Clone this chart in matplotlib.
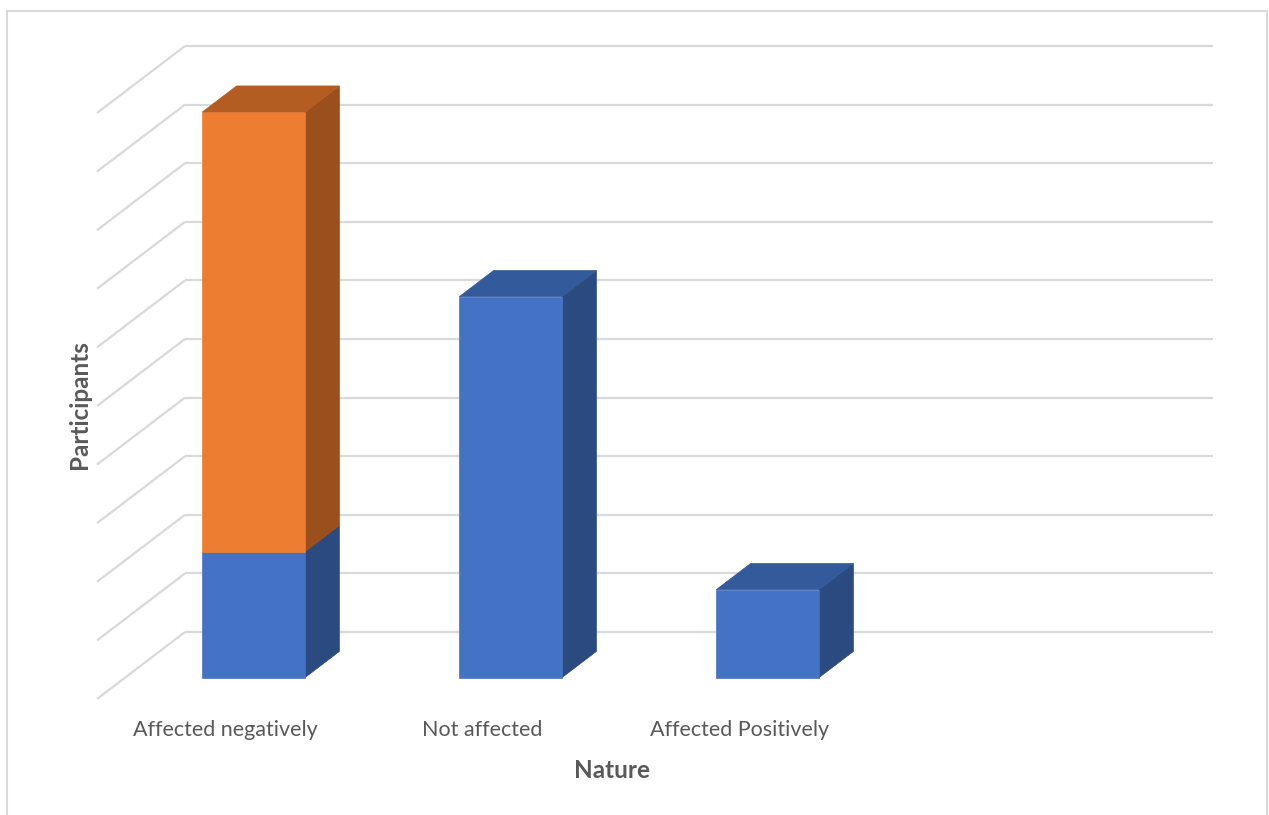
import numpy as np
import matplotlib.pyplot as plt
from matplotlib.patches import Polygon, Rectangle

# data
categories = ['Affected negatively', 'Not affected', 'Affected Positively']
blue_vals = [21.5, 65, 15]
orange_vals = [75, 0, 0]
grid_vals = np.arange(0, 101, 10)
n_slots = 4

blue_cols = ('#4472C4', '#2B4A80', '#335A9A')     # front, side, top
orange_cols = ('#ED7D31', '#9A4F1D', '#B45D22')
grid_col = '#D9D9D9'
text_col = '#595959'

W, H = 1269, 815
fig = plt.figure(figsize=(W / 100, H / 100), dpi=100)
ax = fig.add_axes([0, 0, 1, 1])

# pixel scale of the back wall (one category slot, one value unit)
px_cat, px_val = 257.0, 5.86
x0px, y0px = 185.0, 632.0
ax.set_xlim(-x0px / px_cat, (W - x0px) / px_cat)
ax.set_ylim((y0px - H) / px_val, y0px / px_val)
ax.axis('off')

# oblique offset for going from back wall (d=0) to front edge (d=1)
ddx, ddy = -88 / px_cat, -67 / px_val


def shift(x, y, d):
    return x + d * ddx, y + d * ddy


# gridlines: back wall + side wall
for v in grid_vals:
    ax.plot([0, n_slots], [v, v], color=grid_col, lw=1.6, zorder=1,
            solid_capstyle='butt')
    ax.plot([0, ddx], [v, v + ddy], color=grid_col, lw=1.6, zorder=1,
            solid_capstyle='butt')

d_front, d_back = 0.68, 0.29
half_w = 0.2


def draw_block(i, bot, top, cols, with_top):
    xl, xr = i + 0.5 - half_w, i + 0.5 + half_w
    front = [shift(xl, bot, d_front), shift(xr, bot, d_front),
             shift(xr, top, d_front), shift(xl, top, d_front)]
    side = [shift(xr, bot, d_front), shift(xr, bot, d_back),
            shift(xr, top, d_back), shift(xr, top, d_front)]
    ax.add_patch(Polygon(side, closed=True, fc=cols[1], ec=cols[1], lw=0.5, zorder=3))
    ax.add_patch(Polygon(front, closed=True, fc=cols[0], ec=cols[0], lw=0.5, zorder=4))
    if with_top:
        lid = [shift(xl, top, d_front), shift(xr, top, d_front),
               shift(xr, top, d_back), shift(xl, top, d_back)]
        ax.add_patch(Polygon(lid, closed=True, fc=cols[2], ec=cols[2], lw=0.5, zorder=4))


for i in range(len(categories)):
    b, o = blue_vals[i], orange_vals[i]
    draw_block(i, 0, b, blue_cols, with_top=(o == 0))
    if o > 0:
        draw_block(i, b, b + o, orange_cols, with_top=True)

# category labels along the front edge of the floor
for i, lab in enumerate(categories):
    x, y = shift(i + 0.5, 0, 1.0)
    ax.text(x, y - 5.3, lab, ha='center', va='center', fontsize=15.5,
            color=text_col, family='Lato')

fig.text(80 / W, 1 - 405 / H, 'Participants', rotation=90, ha='center',
         va='center', fontsize=17.5, fontweight='bold', color=text_col, family='Lato')
fig.text(612 / W, 1 - 770 / H, 'Nature', ha='center', va='center',
         fontsize=17.5, fontweight='bold', color=text_col, family='Lato')

# chart area border
fig.patches.append(Rectangle((7 / W, -0.02), 1260 / W, (H - 11) / H + 0.02,
                             transform=fig.transFigure, fill=False,
                             edgecolor=grid_col, lw=1.5))

fig.savefig('out.png', dpi=100)
